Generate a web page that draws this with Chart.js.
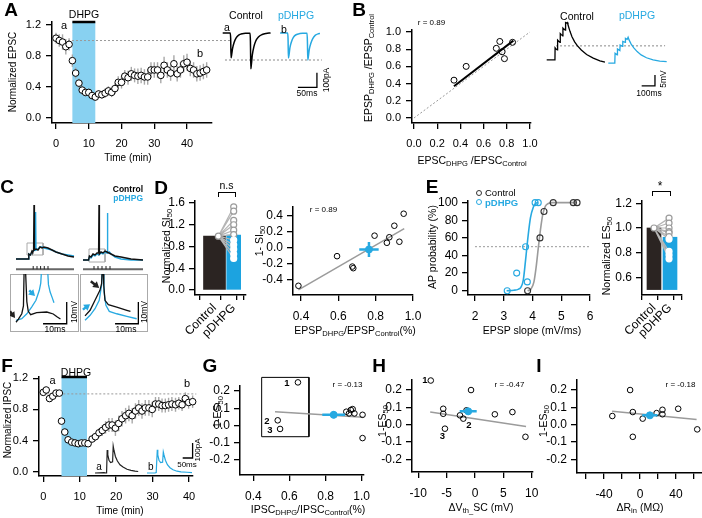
<!DOCTYPE html>
<html><head><meta charset="utf-8">
<script src="https://cdn.jsdelivr.net/npm/chart.js"></script>
<style>
html,body{margin:0;padding:0;background:#fff;}
#fig{position:relative;width:702px;height:518px;overflow:hidden;background:#fff;font-family:"Liberation Sans",Arial,Helvetica,sans-serif;color:#000;}
#fig canvas{position:absolute;}
.t{position:absolute;white-space:nowrap;line-height:1;}
.t sub{font-size:72%;vertical-align:-0.3em;line-height:0;}
.frame{position:absolute;border:1.3px solid #aaa;box-sizing:border-box;}
.brk{position:absolute;border:1.3px solid #000;border-bottom:none;box-sizing:border-box;}
.mk{position:absolute;width:6px;height:6px;border-radius:50%;box-sizing:border-box;background:#fff;}
</style></head><body><div id="fig"></div>
<script>
// ================= DATA =================
// Panel A : normalized EPSC time course
const A_time = [0,1,2,3,4,5,6,7,8,9,10,11,12,13,14,15,16,17,18,19,20,21,22,23,24,25,26,27,28,29,30,31,32,33,34,35,36,37,38,39,40,41,42,43,44,45,46];
const A_epsc = [1.03,1.00,0.98,0.92,0.95, 0.74,0.58,0.45,0.36,0.33, 0.33,0.29,0.27,0.31,0.30, 0.32,0.35,0.33,0.38,0.46, 0.46,0.54,0.52,0.57,0.55, 0.54,0.55,0.53,0.53,0.62, 0.62,0.62,0.55,0.68,0.62, 0.58,0.70,0.57,0.62,0.70, 0.72,0.64,0.62,0.57,0.58, 0.60,0.62];
const A_sem  = [0.07,0.08,0.10,0.10,0.08, 0.08,0.07,0.06,0.06,0.05, 0.05,0.05,0.05,0.05,0.05, 0.06,0.06,0.06,0.07,0.08, 0.08,0.08,0.09,0.09,0.09, 0.10,0.10,0.10,0.10,0.10, 0.10,0.10,0.10,0.11,0.10, 0.10,0.11,0.10,0.10,0.11, 0.11,0.10,0.10,0.10,0.10, 0.10,0.10];
const A_drug = [5, 12];
const A_xTicks = [0,10,20,30,40];
const A_yTicks = [0,0.4,0.8,1.2];
// Panel A : example EPSC traces (ms, pA)
const A_traceCtrl = [[0,0],[20,0],[21,-40],[22,-170],[23.5,-150],[26,-105],[30,-65],[35,-35],[42,-15],[52,-5],[62,-2],[72,-1],[73,-60],[74,-245],[75.5,-215],[78,-150],[82,-95],[87,-55],[94,-27],[104,-10],[114,-3],[126,0]];
const A_tracePdhpg = [[151,0],[171,0],[172,-40],[173,-172],[174.5,-150],[177,-100],[181,-60],[186,-30],[193,-12],[203,-4],[213,-2],[222,-1],[223,-60],[224,-185],[225.5,-160],[228,-110],[232,-70],[237,-38],[244,-15],[252,-5],[256,-3]];

// Panel B : EPSP ratio vs EPSC ratio
const B_epsc = [0.345,0.45,0.71,0.74,0.76,0.78,0.85];
const B_epsp = [0.44,0.60,0.81,0.89,0.77,0.69,0.88];
const B_fit = [[0.345,0.37],[0.857,0.90]];
const B_identity = [[0,0],[1,1]];
const B_ticks = [0,0.2,0.4,0.6,0.8,1.0];
const B_traceCtrl = [[0,0],[62,0],[63,5.5],[70,5],[80,4.6],[82,9],[90,8.5],[100,8],[102,12],[110,11.5],[120,11],[122,14.5],[130,14],[140,13.6],[142,17],[150,16.8],[155,17],[160,16],[175,13],[190,10.5],[210,8.2],[230,6.5],[260,4.5],[300,2.5],[350,0.8],[400,-0.4],[438,-1]];
const B_tracePdhpg = [[463,-1.4],[512,-1.4],[514,3],[530,2.3],[532,5],[550,4.3],[552,6.8],[570,6.2],[572,8.4],[590,8],[592,9.8],[605,9.4],[612,10.3],[620,9],[635,7.2],[655,5.5],[680,3.8],[710,2.3],[750,1],[800,0],[850,-0.5],[902,-0.8]];

// Panel C : AP traces (ms, mV)
const C1_ctrl = [[0,0],[30,0],[32,5],[36,4],[40,8],[42,7],[44,9],[45,54],[46,9],[50,10],[55,9],[60,12],[65,11],[70,12],[80,11],[90,9],[100,7],[115,5],[130,3],[145,2]];
const C1_pd   = [[0,0],[30,0],[32,5],[36,4],[40,7],[44,8],[48,9],[49,47],[50,9],[55,10],[60,12],[65,12],[70,11],[80,10],[90,9],[100,7],[115,5],[130,4],[145,3]];
const C1_stim = [43,52.5,61.5,70.7,80];
const C2_ctrl = [[0,0],[14,0],[16,4],[20,3],[25,6],[30,5],[35,7],[39,7],[40,55],[41,6],[45,8],[50,7],[55,9],[60,8],[65,7],[70,6],[80,4],[95,3],[120,1],[150,0]];
const C2_pd   = [[0,0],[14,0],[16,3],[20,2],[25,5],[30,4],[35,6],[40,5],[45,7],[50,6],[55,8],[60,7],[61,47],[62,7],[66,8],[70,6],[80,3],[95,1],[120,0],[150,0]];
const C2_stim = [27.5,37.5,47.5,57.5,67.5];
const C3_ctrl = [[2.5,4.5],[3.5,5.9],[4.9,8.4],[5.6,12],[5.9,30],[6.4,30],[7.0,14],[7.6,9.5],[8.6,8],[11.1,8.9],[15.3,9.2],[18,8.3],[19.7,6.9],[21,6]];
const C3_pd   = [[2.5,5.4],[4.9,6.1],[7,8.4],[9,11.5],[10.8,14.6],[12.2,19.2],[12.8,22.5],[13.2,30],[15.6,30],[16,21.8],[16.7,18.4],[17.6,15.7],[18.3,13.5]];
const C4_ctrl = [[2.1,7.4],[4.2,10],[6.25,14.6],[8.3,19.2],[9,22.3],[9.3,30],[9.6,30],[9.9,21.5],[10.4,14.6],[11.8,12.6],[15.3,11.5],[19.5,10],[21,9.5]];
const C4_pd   = [[2.1,5.4],[4.2,7.7],[6.25,10.7],[8,14.6],[9,21.5],[9.3,30],[9.9,30],[10,18.4],[10.8,12.3],[12.2,9.5],[15.3,8.4],[19.5,7.2],[23.6,6.1]];

// Panel D : normalized SI50 and 1-SI50 vs EPSP ratio
const D_cats = ['Control','pDHPG'];
const D_bar = [0.99, 1.01];
const D_pd = [1.53,1.45,1.28,1.20,1.10,1.02,0.92,0.83,0.75,0.66,0.58];
const D_yTicks = [0,0.4,0.8,1.2,1.6];
const D_epsp = [0.386,0.593,0.675,0.68,0.794,0.86,0.873,0.90,0.927,0.95];
const D_si = [-0.48,-0.11,-0.24,-0.26,0.146,0.057,0.126,0.27,0.07,0.42];
const D_fit = [[0.386,-0.53],[0.953,0.235]];
const D_mean = {x:0.764, y:-0.026, ex:0.052, ey:0.094};
const D_sxTicks = [0.4,0.6,0.8,1.0];
const D_syTicks = [-0.4,-0.2,0,0.2,0.4];

// Panel E : AP probability vs EPSP slope, normalized ES50
const E_ctrlX = [3.83,4.26,4.40,4.72,5.42,5.55];
const E_ctrlY = [0,60,90,100,100,100];
const E_pdX = [3.12,3.45,3.82,3.76,4.09,4.20];
const E_pdY = [0,20,10,50,100,100];
const E_ctrlFit = [[3.83,0],[3.95,2],[4.05,10],[4.12,25],[4.2,48],[4.28,70],[4.36,87],[4.45,96],[4.55,99],[4.7,100],[5.55,100]];
const E_pdFit = [[3.1,0],[3.35,0.5],[3.5,1.5],[3.6,4],[3.68,12],[3.76,35],[3.85,63],[3.93,83],[4.03,95],[4.1,99],[4.2,100]];
const E_xTicks = [2,3,4,5,6];
const E_yTicks = [0,20,40,60,80,100];
const E_bar = [1.0, 0.925];
const E_pd = [1.08,1.04,1.0,0.97,0.96,0.93,0.91,0.81,0.78,0.75];
const E_byTicks = [0.6,0.8,1.0,1.2];

// Panel F : normalized IPSC
const F_time = [0,0.8,1.7,2.6,3.5,4.4, 5.0,5.9,6.8,7.8,8.7,9.6,10.5,11.4,12.3, 13.4,14.3,15.3,16.2,17.1,18.0,18.9,19.8,20.7,21.6,22.6,23.5,24.4,25.3,26.2,27.1,28.0,29.0,29.9,30.8,31.7,32.6,33.5,34.4,35.3,36.3,37.2,38.1,39.0,39.9,41.0];
const F_ipsc = [1.02,1.05,0.94,0.97,1.01,1.01, 0.65,0.51,0.41,0.38,0.37,0.36,0.37,0.37,0.36, 0.42,0.45,0.50,0.53,0.57,0.60,0.60,0.56,0.62,0.68,0.72,0.75,0.72,0.78,0.82,0.78,0.82,0.82,0.80,0.87,0.87,0.85,0.85,0.86,0.87,0.86,0.88,0.86,0.94,0.89,0.90];
const F_sem  = [0.04,0.04,0.04,0.04,0.03,0.03, 0.04,0.04,0.04,0.03,0.03,0.03,0.03,0.03,0.03, 0.04,0.05,0.06,0.07,0.08,0.09,0.09,0.10,0.10,0.10,0.10,0.10,0.10,0.10,0.10,0.10,0.10,0.10,0.10,0.09,0.09,0.09,0.09,0.09,0.09,0.09,0.08,0.08,0.08,0.08,0.08];
const F_drug = [5, 12];
const F_traceCtrl = [[0,0],[45,3],[55,0],[58,5],[61,153],[64,120],[70,85],[78,70],[88,75],[91,180],[95,150],[102,110],[112,80],[125,55],[140,40],[160,25],[180,18],[200,12],[216,10]];
const F_tracePdhpg = [[260,0],[300,0],[306,3],[311.5,155],[314,120],[320,85],[328,70],[338,72],[341.5,140],[345,120],[352,85],[362,55],[375,35],[390,22],[410,12],[430,8],[460,5],[485,3]];

// Panels G, H, I : 1-ES50 correlations
const G_x = [0.647,0.535,0.548,0.915,0.94,0.95,0.93,0.96,1.005,1.005];
const G_y = [0.25,0.03,-0.02,0.08,0.09,0.095,0.07,0.07,0.062,-0.073];
const G_fit = [[0.52,0.08],[1.009,0.048]];
const G_mean = {x:0.845, y:0.062, ex:0.063, ey:0.02};
const G_box = [[0.446,0.279],[0.708,0.279],[0.708,-0.065],[0.446,-0.065],[0.446,0.279]];
const G_xTicks = [0.4,0.6,0.8,1.0];
const ES_yTicks = [-0.2,-0.1,0,0.1,0.2];
const H_x = [-7.8,-5.6,-5.6,-5.3,-2.65,-2.06,-1.5,-0.7,3.5,6.6,8.9];
const H_y = [0.255,0.092,0.063,-0.023,0.054,0.035,0.083,0.2,0.06,0.073,-0.07];
const H_fit = [[-7.9,0.073],[9,-0.01]];
const H_mean = {x:-1.2, y:0.077, ex:1.5, ey:0.02};
const H_xTicks = [-10,-5,0,5,10];
const I_x = [-30.8,-11,-8,-8,3,18.5,25,25,42.5,63.7];
const I_y = [0.05,0.2,0.073,-0.07,0.035,0.067,0.086,0.06,0.092,-0.027];
const I_fit = [[-31,0.078],[63,0.03]];
const I_mean = {x:11, y:0.054, ex:8.5, ey:0.015};
const I_xTicks = [-60,-40,-20,0,20,40,60];

// ================= HELPERS =================
const BLUE = '#27a9e1', SHADE = '#88d1f1', DARK = '#2b2422', GREY = '#9b9b9b';
const fig = document.getElementById('fig');
Chart.defaults.font.family = '"Liberation Sans", Arial, Helvetica, sans-serif';
Chart.defaults.color = '#000';
const P = a => a.map(([x,y]) => ({x,y}));
const XY = (xs, ys) => xs.map((x,i) => ({x, y: ys[i]}));
const f1 = v => v.toFixed(1);

function line(data, color, w, extra) {
  return Object.assign({type:'line', data, borderColor:color, backgroundColor:color, borderWidth:w,
    pointRadius:0, fill:false, tension:0, showLine:true, spanGaps:false}, extra||{});
}
function dots(data, border, fill, r, bw, extra) {
  return Object.assign({type:'scatter', data, showLine:false, pointRadius:r, pointBorderColor:border,
    pointBackgroundColor:fill, pointBorderWidth:bw, clip:false}, extra||{});
}
function barDS(x, y, color, thick, extra) {
  return Object.assign({type:'bar', data:[{x, y}], backgroundColor:color, borderWidth:0,
    barThickness:thick, grouped:false}, extra||{});
}
function axis(s, pos, size) {
  const o = {type:'linear', position:pos, min:s.min, max:s.max, bounds:'data'};
  if (s.show === false) { o.display = false; return o; }
  Object.assign(o, {
    afterFit: sc => { if (pos === 'left') sc.width = size; else sc.height = size; },
    afterBuildTicks: sc => { sc.ticks = s.ticks.map(v => ({value: v})); },
    grid: {display:true, drawOnChartArea:false, drawTicks:true, tickLength:s.tl || 5, tickWidth:1.3,
      tickColor: s.tickColor || '#000', color:'#000', lineWidth:1.3},
    border: {display:true, color:'#000', width:1.5},
    ticks: {color:'#000', font:{size:s.fs || 11}, padding:(s.pad === undefined ? 3 : s.pad), autoSkip:false,
      maxRotation:s.rot || 0, minRotation:s.rot || 0, callback: s.fmt || (v => String(v))}
  });
  return o;
}
const extras = {
  id:'extras',
  beforeDatasetsDraw(chart) {
    const ex = chart.canvas._ex; if (!ex) return;
    const ctx = chart.ctx, a = chart.chartArea, X = chart.scales.x, Y = chart.scales.y;
    ctx.save();
    (ex.bands || []).forEach(b => {
      const x0 = X.getPixelForValue(b.x0), x1 = X.getPixelForValue(b.x1);
      ctx.fillStyle = b.color; ctx.fillRect(x0, a.top, x1 - x0, a.bottom - a.top);
    });
    (ex.err || []).forEach(e => {
      ctx.strokeStyle = e.color; ctx.lineWidth = e.w;
      e.x.forEach((xv, i) => {
        const px = X.getPixelForValue(xv);
        ctx.beginPath();
        ctx.moveTo(px, Y.getPixelForValue(e.y[i] - e.e[i]));
        ctx.lineTo(px, Y.getPixelForValue(e.y[i] + e.e[i]));
        ctx.stroke();
      });
    });
    ctx.restore();
  },
  afterDatasetsDraw(chart) {
    const ex = chart.canvas._ex; if (!ex) return;
    const ctx = chart.ctx, X = chart.scales.x, Y = chart.scales.y;
    ctx.save();
    (ex.cross || []).forEach(c => {
      const cx = X.getPixelForValue(c.x), cy = Y.getPixelForValue(c.y);
      ctx.strokeStyle = c.color; ctx.lineWidth = 2.5;
      ctx.beginPath();
      ctx.moveTo(X.getPixelForValue(c.x - c.ex), cy); ctx.lineTo(X.getPixelForValue(c.x + c.ex), cy);
      ctx.moveTo(cx, Y.getPixelForValue(c.y - c.ey)); ctx.lineTo(cx, Y.getPixelForValue(c.y + c.ey));
      ctx.stroke();
    });
    (ex.arrows || []).forEach(ar => {
      const x0 = X.getPixelForValue(ar.x0), y0 = Y.getPixelForValue(ar.y0);
      const x1 = X.getPixelForValue(ar.x1), y1 = Y.getPixelForValue(ar.y1);
      const g = Math.atan2(y1 - y0, x1 - x0);
      ctx.strokeStyle = ar.color; ctx.fillStyle = ar.color; ctx.lineWidth = 2.5;
      ctx.beginPath(); ctx.moveTo(x0, y0); ctx.lineTo(x1 - 4 * Math.cos(g), y1 - 4 * Math.sin(g)); ctx.stroke();
      ctx.beginPath(); ctx.moveTo(x1, y1);
      ctx.lineTo(x1 - 7 * Math.cos(g - 0.55), y1 - 7 * Math.sin(g - 0.55));
      ctx.lineTo(x1 - 7 * Math.cos(g + 0.55), y1 - 7 * Math.sin(g + 0.55));
      ctx.closePath(); ctx.fill();
    });
    ctx.restore();
  }
};
function mk(area, sx, sy, datasets, ex) {
  const L = sy.show === false ? 0 : (sy.space || 40);
  const B = sx.show === false ? 0 : (sx.space || 26);
  const T = 12, R = 20;
  const c = document.createElement('canvas');
  const w = Math.round(area.r - area.l + L + R), h = Math.round(area.b - area.t + T + B);
  c.width = w; c.height = h;
  c.style.left = Math.round(area.l - L) + 'px'; c.style.top = Math.round(area.t - T) + 'px';
  c.style.width = w + 'px'; c.style.height = h + 'px';
  fig.appendChild(c);
  c._ex = ex || {};
  return new Chart(c, {
    type:'scatter',
    data:{datasets: datasets.slice().reverse()},
    options:{
      responsive:false, animation:false, devicePixelRatio:1, events:[],
      layout:{padding:{left:0, top:T, right:R, bottom:0}},
      plugins:{legend:{display:false}, tooltip:{enabled:false}},
      scales:{x: axis(sx, 'bottom', B), y: axis(sy, 'left', L)}
    },
    plugins:[extras]
  });
}
function T(html, x, y, o) {
  o = o || {};
  const d = document.createElement('div'); d.className = 't'; d.innerHTML = html;
  d.style.left = x + 'px'; d.style.top = y + 'px';
  d.style.fontSize = (o.fs || 10) + 'px';
  if (o.b) d.style.fontWeight = 'bold';
  if (o.c) d.style.color = o.c;
  const tx = o.a === 'l' ? '0' : o.a === 'r' ? '-100%' : '-50%';
  d.style.transform = 'translate(' + tx + ',-50%)' + (o.rot ? ' rotate(' + o.rot + 'deg)' : '');
  fig.appendChild(d);
}
function box(cls, l, t, w, h) {
  const d = document.createElement('div'); d.className = cls;
  Object.assign(d.style, {left:l + 'px', top:t + 'px', width:w + 'px', height:h + 'px'});
  fig.appendChild(d); return d;
}
const hidden = (min, max) => ({show:false, min, max});

// ================= PANEL A =================
mk({l:52, t:22, r:212, b:123},
  {min:-1.22, max:47.63, ticks:A_xTicks, fs:11, tl:6, pad:8},
  {min:-0.0645, max:1.239, ticks:A_yTicks, fmt:f1, fs:11, tl:6, pad:5},
  [
    line([{x:0, y:1}, {x:55, y:1}], '#999', 1, {borderDash:[2,2], clip:false}),
    line([{x:A_drug[0], y:1.239}, {x:A_drug[1], y:1.239}], '#000', 2.5, {clip:false}),
    dots(XY(A_time, A_epsc), '#000', '#fff', 3.3, 1)
  ],
  {bands:[{x0:A_drug[0], x1:A_drug[1], color:SHADE}],
   err:[{x:A_time, y:A_epsc, e:A_sem, color:'#a8a8a8', w:1.4}]});
mk({l:220, t:20, r:330, b:95}, hidden(-7.1, 282.4), hidden(-424.7, 89),
  [
    line([{x:6, y:-185}, {x:261, y:-185}], '#888', 1, {borderDash:[2,2]}),
    line(P(A_traceCtrl), '#000', 1.5, {cubicInterpolationMode:'monotone'}),
    line(P(A_tracePdhpg), BLUE, 1.5, {cubicInterpolationMode:'monotone'}),
    line([{x:198, y:-372}, {x:248, y:-372}, {x:248, y:-272}], '#000', 1.3)
  ]);

// ================= PANEL B =================
mk({l:412, t:30, r:531, b:123},
  {min:-0.017, max:1.009, ticks:B_ticks, fmt:f1, fs:11, tl:6, pad:8},
  {min:-0.058, max:1.023, ticks:B_ticks, fmt:f1, fs:11, tl:6, pad:5},
  [
    line(P(B_identity), '#999', 1, {borderDash:[2,2]}),
    line(P(B_fit), '#000', 2),
    dots(XY(B_epsc, B_epsp), '#000', 'rgba(255,255,255,0)', 3, 1)
  ]);
mk({l:540, t:10, r:672, b:100}, hidden(-50.4, 942), hidden(-18.2, 22.7),
  [
    line([{x:70, y:6.4}, {x:890, y:6.4}], '#888', 1, {borderDash:[2,2]}),
    line(P(B_traceCtrl), '#000', 1.3),
    line(P(B_tracePdhpg), BLUE, 1.3),
    line([{x:714, y:-11.8}, {x:814, y:-11.8}, {x:814, y:-6.8}], '#000', 1.3)
  ]);

// ================= PANEL C =================
const stimTicks = (arr, y0, y1) => arr.flatMap(t => [{x:t, y:y0}, {x:t, y:y1}, {x:t, y:null}]);
mk({l:14, t:200, r:78, b:272}, hidden(-5, 155), hidden(-13, 59),
  [
    line([{x:0, y:-10.3}, {x:145, y:-10.3}], '#666', 2),
    line(stimTicks(C1_stim, -10.3, -7), '#222', 1),
    line(P([[27.5,16],[67.5,16],[67.5,4],[27.5,4],[27.5,16]]), '#aaa', 1),
    line(P(C1_pd), BLUE, 1.4),
    line(P(C1_ctrl), '#111', 1.4)
  ]);
mk({l:80, t:200, r:146, b:272}, hidden(-7.5, 157.5), hidden(-12, 60),
  [
    line([{x:0, y:-9.3}, {x:150, y:-9.3}], '#666', 2),
    line(stimTicks(C2_stim, -9.3, -6), '#222', 1),
    line(P([[15,11],[55,11],[55,-2],[15,-2],[15,11]]), '#aaa', 1),
    line(P(C2_pd), BLUE, 1.4),
    line(P(C2_ctrl), '#111', 1.4)
  ]);
box('frame', 10, 274, 69, 58);
box('frame', 80, 274, 68, 58);
mk({l:10, t:274, r:78, b:332}, hidden(0, 28.3), hidden(0, 26.7),
  [
    line(P(C3_pd), BLUE, 1.3),
    line(P(C3_ctrl), '#111', 1.3),
    line([{x:13.75, y:3.8}, {x:23.6, y:3.8}, {x:23.6, y:13.8}], '#000', 1.3)
  ],
  {arrows:[{x0:0, y0:9.5, x1:2.1, y1:6.4, color:'#222'}, {x0:8, y0:19.2, x1:10.4, y1:16.6, color:BLUE}]});
mk({l:80, t:274, r:147, b:332}, hidden(0, 27.9), hidden(0, 26.7),
  [
    line(P(C4_pd), BLUE, 1.3),
    line(P(C4_ctrl), '#111', 1.3),
    line([{x:14.6, y:3.8}, {x:24.3, y:3.8}, {x:24.3, y:13.8}], '#000', 1.3)
  ],
  {arrows:[{x0:4.5, y0:23.4, x1:8.0, y1:20.3, color:'#222'}, {x0:1.2, y0:10.3, x1:4.2, y1:12.8, color:BLUE}]});

// ================= PANEL D =================
const catFmt = v => v === 1 ? D_cats[0] : v === 2 ? D_cats[1] : '';
const catTickCol = c => (c.tick && Number.isInteger(c.tick.value)) ? 'rgba(0,0,0,0)' : '#000';
mk({l:195, t:201, r:246, b:295},
  {min:0.25, max:2.375, ticks:[0.5,1,1.62,2,2.35], fmt:catFmt, rot:45, fs:12, tl:5, pad:1, space:50, tickColor:catTickCol},
  {min:-0.092, max:1.637, ticks:D_yTicks, fmt:f1, fs:12, tl:6, pad:4},
  [
    barDS(1, D_bar[0], DARK, 22),
    barDS(2, D_bar[1], '#1ca3e0', 14),
    line(D_pd.flatMap(v => [{x:1.2, y:D_bar[0]}, {x:2, y:v}, {x:2, y:null}]), '#b5b5b5', 1.2),
    dots([{x:1.2, y:D_bar[0]}], GREY, '#fff', 3, 1.2),
    dots(D_pd.map(v => ({x:2, y:v})), c => (c.raw && c.raw.y > D_bar[1]) ? GREY : '#fff', '#fff', 3, 1.2)
  ]);
mk({l:293, t:207, r:413, b:295},
  {min:0.357, max:1.0, ticks:D_sxTicks, fmt:f1, fs:12, tl:6, pad:8},
  {min:-0.595, max:0.504, ticks:D_syTicks, fmt:f1, fs:12, tl:6, pad:4},
  [
    line(P(D_fit), GREY, 1.5),
    dots(XY(D_epsp, D_si), '#000', 'rgba(255,255,255,0)', 2.8, 1),
    dots([{x:D_mean.x, y:D_mean.y}], BLUE, BLUE, 3.5, 1)
  ],
  {cross:[Object.assign({color:BLUE}, D_mean)]});

// ================= PANEL E =================
mk({l:468, t:201, r:590, b:295},
  {min:1.757, max:6, ticks:E_xTicks, fs:12, tl:6, pad:8},
  {min:-4.9, max:101.9, ticks:E_yTicks, fs:12, tl:6, pad:4},
  [
    line([{x:2, y:50}, {x:6, y:50}], '#999', 1, {borderDash:[2,2]}),
    line(P(E_ctrlFit), GREY, 1.6, {cubicInterpolationMode:'monotone'}),
    line(P(E_pdFit), BLUE, 1.6, {cubicInterpolationMode:'monotone'}),
    dots(XY(E_ctrlX, E_ctrlY), '#333', 'rgba(255,255,255,0)', 3, 1.1),
    dots(XY(E_pdX, E_pdY), BLUE, 'rgba(255,255,255,0)', 3, 1.1)
  ]);
mk({l:642, t:201, r:682, b:295},
  {min:0.5, max:2.5, ticks:[0.5,1,1.5,2,2.5], fmt:catFmt, rot:45, fs:12, tl:5, pad:1, space:50, tickColor:catTickCol},
  {min:0.456, max:1.219, ticks:E_byTicks, fmt:f1, fs:12, tl:6, pad:4},
  [
    barDS(1, E_bar[0], DARK, 14, {base:0.5}),
    barDS(2, E_bar[1], '#1ca3e0', 14, {base:0.5}),
    line(E_pd.flatMap(v => [{x:1, y:E_bar[0]}, {x:1.94, y:v}, {x:1.94, y:null}]), '#b5b5b5', 1.2),
    dots([{x:1, y:E_bar[0]}], GREY, '#fff', 3, 1.2),
    dots(E_pd.map(v => ({x:1.94, y:v})), c => (c.raw && c.raw.y > E_bar[1]) ? GREY : '#fff', '#fff', 3, 1.2)
  ]);

// ================= PANEL F =================
mk({l:39, t:377, r:193, b:476},
  {min:-1.18, max:41.1, ticks:A_xTicks, fs:11, tl:6, pad:8},
  {min:-0.055, max:1.217, ticks:A_yTicks, fmt:f1, fs:11, tl:6, pad:5},
  [
    line([{x:0, y:1}, {x:42, y:1}], '#999', 1, {borderDash:[2,2], clip:false}),
    line([{x:F_drug[0], y:1.217}, {x:F_drug[1], y:1.217}], '#000', 2.5, {clip:false}),
    dots(XY(F_time, F_ipsc), '#000', '#fff', 3.3, 1)
  ],
  {bands:[{x0:F_drug[0], x1:F_drug[1], color:SHADE}],
   err:[{x:F_time, y:F_ipsc, e:F_sem, color:'#a8a8a8', w:1.4}]});
mk({l:90, t:440, r:200, b:476}, hidden(-25, 525), hidden(-20, 220),
  [
    line(P(F_traceCtrl), '#222', 1.2),
    line(P(F_tracePdhpg), BLUE, 1.2),
    line([{x:438.5, y:100}, {x:488, y:100}, {x:488, y:200}], '#000', 1.3)
  ]);

// ================= PANELS G, H, I =================
mk({l:240, t:386, r:364, b:475},
  {min:0.326, max:1.013, ticks:G_xTicks, fmt:f1, fs:12, tl:6, pad:8},
  {min:-0.287, max:0.229, ticks:ES_yTicks, fmt:f1, fs:12, tl:6, pad:4},
  [
    line(P(G_box), '#000', 1, {clip:false}),
    line(P(G_fit), GREY, 1.5),
    dots(XY(G_x, G_y), '#000', 'rgba(255,255,255,0)', 2.8, 1),
    dots([{x:G_mean.x, y:G_mean.y}], BLUE, BLUE, 3.5, 1)
  ],
  {cross:[Object.assign({color:BLUE}, G_mean)]});
mk({l:412, t:380, r:533, b:472},
  {min:-11.11, max:10.23, ticks:H_xTicks, fs:12, tl:6, pad:8},
  {min:-0.273, max:0.258, ticks:ES_yTicks, fmt:f1, fs:12, tl:6, pad:4},
  [
    line(P(H_fit), GREY, 1.5),
    dots(XY(H_x, H_y), '#000', 'rgba(255,255,255,0)', 2.8, 1),
    dots([{x:H_mean.x, y:H_mean.y}], BLUE, BLUE, 3.5, 1)
  ],
  {cross:[Object.assign({color:BLUE}, H_mean)]});
mk({l:577, t:380, r:702, b:473},
  {min:-70.1, max:69, ticks:I_xTicks, fmt:v => (v === -40 || v === 0 || v === 40) ? String(v) : '', fs:12, tl:6, pad:8},
  {min:-0.279, max:0.258, ticks:ES_yTicks, fmt:f1, fs:12, tl:6, pad:4},
  [
    line(P(I_fit), GREY, 1.5),
    dots(XY(I_x, I_y), '#000', 'rgba(255,255,255,0)', 2.8, 1),
    dots([{x:I_mean.x, y:I_mean.y}], BLUE, BLUE, 3.5, 1)
  ],
  {cross:[Object.assign({color:BLUE}, I_mean)]});

// ================= TEXT =================
[['A',11,9],['B',359,9],['C',7,186],['D',161,187],['E',432,186],['F',7,365],['G',210,365],['H',379,365],['I',539,365]]
  .forEach(([s,x,y]) => T(s, x, y, {fs:19, b:true}));
// A
T('Normalized EPSC', 12.5, 72, {rot:-90, fs:10});
T('Time (min)', 128, 158, {fs:10});
T('DHPG', 84, 14, {fs:10.5});
T('a', 64, 25, {fs:11}); T('b', 200, 53, {fs:11});
T('Control', 246, 15, {fs:10.5}); T('pDHPG', 296, 15, {fs:10.5, c:BLUE});
T('a', 227, 27, {fs:10.5}); T('b', 284, 29, {fs:10.5});
T('100pA', 325.5, 80, {rot:-90, fs:8.5}); T('50ms', 307, 93, {fs:8.5});
// B
T('r = 0.89', 431.5, 23, {fs:8});
T('EPSP<sub>DHPG</sub> /EPSP<sub>Control</sub>', 368, 68, {rot:-90, fs:10.5});
T('EPSC<sub>DHPG</sub> /EPSC<sub>Control</sub>', 472, 160, {fs:10.5});
T('Control', 577, 16, {fs:10.5}); T('pDHPG', 637, 15, {fs:10.5, c:BLUE});
T('5mV', 663, 79, {rot:-90, fs:8.5}); T('100ms', 649, 93, {fs:8.5});
// C
T('Control', 143, 188.5, {a:'r', fs:8.5, b:true}); T('pDHPG', 143, 197.5, {a:'r', fs:8.5, b:true, c:BLUE});
T('10ms', 55, 329, {fs:8.5}); T('10mV', 74, 312, {rot:-90, fs:8.5});
T('10ms', 126, 329, {fs:8.5}); T('10mV', 143.5, 312, {rot:-90, fs:8.5});
// D
T('Normalized SI<sub>50</sub>', 166, 246, {rot:-90, fs:10.5});
T('n.s', 226.5, 185, {fs:10.5});
box('brk', 218, 191.5, 18, 5);
T('r = 0.89', 323.5, 209.5, {fs:8});
T('1- SI<sub>50</sub>', 259, 241, {rot:-90, fs:10.5});
T('EPSP<sub>DHPG</sub>/EPSP<sub>Control</sub>(%)', 355, 330, {fs:10.5});
// E
T('AP probability (%)', 432, 247, {rot:-90, fs:10.5});
T('EPSP slope (mV/ms)', 532, 330, {fs:10.5});
const m1 = box('mk', 475.5, 189.5, 6, 6); m1.style.border = '1.1px solid #333';
const m2 = box('mk', 475.5, 199, 6, 6); m2.style.border = '1.1px solid ' + BLUE;
T('Control', 485, 193, {a:'l', fs:9.5}); T('pDHPG', 485, 202.5, {a:'l', fs:9.5, c:BLUE, b:true});
T('Normalized ES<sub>50</sub>', 606, 256, {rot:-90, fs:10.5});
T('*', 660, 186, {fs:12});
box('brk', 652, 190.5, 19, 5);
// F
T('Normalized IPSC', 8, 420, {rot:-90, fs:10});
T('Time (min)', 120, 511, {fs:10});
T('DHPG', 76, 371.5, {fs:10.5});
T('a', 52.5, 380, {fs:11}); T('b', 187, 382.5, {fs:11});
T('a', 99, 467, {fs:10}); T('b', 150.7, 467, {fs:10});
T('100pA', 198, 450, {rot:-90, fs:8}); T('50ms', 187, 465, {fs:8});
// G
T('1-ES<sub>50</sub>', 217, 412, {rot:-90, fs:10.5});
T('IPSC<sub>DHPG</sub>/IPSC<sub>Control</sub>(%)', 308, 509, {fs:10.5});
T('r = -0.13', 347.5, 384.5, {fs:8});
T('1', 287, 382.5, {fs:9.5, b:true}); T('2', 267, 420.5, {fs:9.5, b:true}); T('3', 270, 430, {fs:9.5, b:true});
// H
T('1-ES<sub>50</sub>', 382, 421, {rot:-90, fs:10.5});
T('ΔV<sub>th_</sub>SC (mV)', 481, 507, {fs:10.5});
T('r = -0.47', 509.5, 384.5, {fs:8});
T('1', 425, 380, {fs:9.5, b:true}); T('2', 469, 425, {fs:9.5, b:true}); T('3', 442.5, 436, {fs:9.5, b:true});
// I
T('1-ES<sub>50</sub>', 543, 421, {rot:-90, fs:10.5});
T('ΔR<sub>in</sub> (MΩ)', 640, 507, {fs:10.5});
T('r = -0.18', 680.5, 384.5, {fs:8});
</script></body></html>
